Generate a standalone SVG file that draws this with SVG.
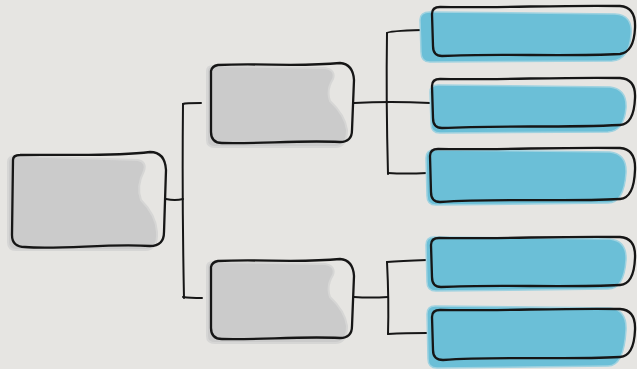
<svg xmlns="http://www.w3.org/2000/svg" width="637" height="369" viewBox="0 0 637 369">
<style>
.bg{fill:#e6e5e2}
.gfill{fill:#cbcbcb;stroke:#d6d6d5;stroke-width:2}
.bfill{fill:#6bbfd7;stroke:#9fd2e0;stroke-width:1.5}
.ol{fill:none;stroke:#161616;stroke-width:2.3;stroke-linejoin:round;stroke-linecap:round}
.cn{fill:none;stroke:#161616;stroke-width:2;stroke-linecap:round;stroke-linejoin:round}
</style>
<rect class="bg" x="0" y="0" width="637" height="369"/>
<g id="connectors">
<path class="cn" d="M166,199 Q175,201 183,199"/>
<path class="cn" d="M183,104 Q182,200 184,298"/>
<path class="cn" d="M183,104 Q185,103 201,103"/>
<path class="cn" d="M183,297 Q190,298 202,298"/>
<path class="cn" d="M354,103 Q390,101 430,103"/>
<path class="cn" d="M387,33 Q386,100 388,174"/>
<path class="cn" d="M387,33 Q388,31 422,30"/>
<path class="cn" d="M388,173 Q405,174 427,173"/>
<path class="cn" d="M354,297 Q370,298 388,297"/>
<path class="cn" d="M387,262 Q389,300 388,334"/>
<path class="cn" d="M387,262 Q400,261 427,260"/>
<path class="cn" d="M388,334 Q405,333 427,333"/>
</g>
<g id="root">
<path class="gfill" d="M8,162 Q8,156 16,156 L138,160 Q147,162 144,171 Q136,186 141,200 Q156,215 157,232 Q158,250 145,250 L16,250 Q8,250 8,242 Z"/>
<path class="ol" d="M13,160 Q13,155 20,155 C60,154 110,157 150,152 Q165,152 166,170 L164,232 Q164,246 150,246 C110,243 60,250 25,247 Q12,247 12,235 Z"/>
</g>
<g id="mid-top">
<path class="gfill" d="M207,71 Q207,66 213,66 L325,68 Q336,70 333,79 Q326,90 330,101 Q345,115 347,130 Q347,147 335,147 L215,147 Q207,147 207,140 Z"/>
<path class="ol" d="M211,71 Q212,66 218,65 C260,63 300,67 340,63 Q353,64 354,80 L352,130 Q352,142 340,142 C300,140 260,144 222,143 Q211,143 211,132 Z"/>
</g>
<g id="mid-bottom">
<path class="gfill" d="M207,267 Q207,262 213,262 L325,264 Q336,266 333,275 Q326,286 330,297 Q345,311 347,326 Q347,343 335,343 L215,343 Q207,343 207,336 Z"/>
<path class="ol" d="M211,267 Q212,262 218,261 C260,259 300,263 340,259 Q353,260 354,276 L352,326 Q352,338 340,338 C300,336 260,340 222,339 Q211,339 211,328 Z"/>
</g>
<g id="leaf-1">
<path class="bfill" d="M420,20 Q420,12 430,12 L615,14 Q633,15 631,35 Q629,60 612,61 L430,62 Q421,62 421,52 Z"/>
<path class="ol" d="M432,14 Q432,7 440,7 C500,8 560,5 620,6 Q636,7 635,28 Q634,52 620,54 C560,57 500,53 442,56 Q433,56 433,46 Z"/>
</g>
<g id="leaf-2">
<path class="bfill" d="M430,92 Q430,85 438,85 L610,87 Q627,89 626,108 Q624,131 608,132 L440,133 Q431,133 431,124 Z"/>
<path class="ol" d="M432,86 Q432,79 440,79 C500,80 560,77 620,78 Q636,79 635,98 Q634,124 620,125 C560,128 500,125 442,128 Q433,128 433,118 Z"/>
</g>
<g id="leaf-3">
<path class="bfill" d="M426,158 Q426,150 434,150 L610,152 Q627,154 626,173 Q624,203 608,203 L436,205 Q427,205 427,196 Z"/>
<path class="ol" d="M430,156 Q430,149 438,149 C500,150 560,147 620,148 Q636,149 635,170 Q634,198 620,199 C560,202 500,198 440,202 Q431,202 431,192 Z"/>
</g>
<g id="leaf-4">
<path class="bfill" d="M426,245 Q426,237 434,237 L610,239 Q627,241 626,260 Q624,289 608,289 L436,291 Q427,291 427,282 Z"/>
<path class="ol" d="M431,245 Q431,238 439,238 C500,239 560,236 620,237 Q636,238 635,258 Q634,284 620,285 C560,288 500,284 441,287 Q432,287 432,277 Z"/>
</g>
<g id="leaf-5">
<path class="bfill" d="M427,314 Q427,306 435,306 L610,308 Q627,310 626,330 Q624,366 608,366 L437,368 Q428,368 428,359 Z"/>
<path class="ol" d="M432,317 Q432,310 440,310 C500,311 560,308 620,309 Q636,310 635,330 Q634,356 620,357 C560,360 500,356 443,360 Q433,360 433,350 Z"/>
</g>
</svg>
